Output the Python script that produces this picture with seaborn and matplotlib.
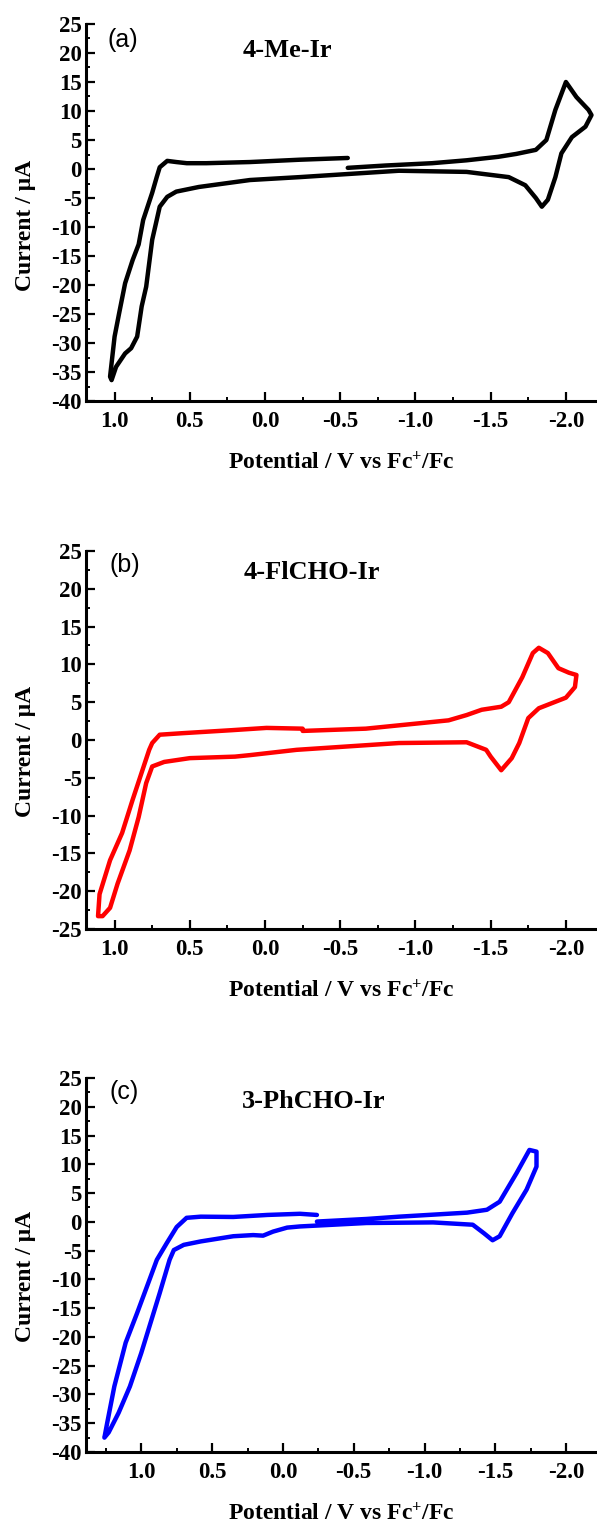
import numpy as np
import pandas as pd
import seaborn as sns
import matplotlib
matplotlib.use("Agg")
import matplotlib.pyplot as plt
from matplotlib.ticker import MultipleLocator

# ---------------- data ----------------
# Panel (a) 4-Me-Ir : potential (V vs Fc+/Fc) and current (uA), in sweep order
a_pot = [-0.55, -0.80, -1.11, -1.34, -1.55, -1.67, -1.80, -1.87, -1.93, -2.00,
         -2.07, -2.15, -2.17, -2.13, -2.04, -1.97, -1.93, -1.88, -1.84, -1.80,
         -1.73, -1.62, -1.34, -0.89, -0.23, 0.10, 0.44, 0.59, 0.65, 0.70,
         0.72, 0.75, 0.79, 0.82, 0.85, 0.89, 0.93, 0.99, 1.02, 1.03,
         1.00, 0.97, 0.93, 0.88, 0.84, 0.81, 0.75, 0.72, 0.70, 0.65,
         0.59, 0.52, 0.39, 0.10, -0.23, -0.55]
a_cur = [0.2, 0.6, 1.0, 1.5, 2.1, 2.6, 3.3, 5.0, 10.2, 15.0,
         12.4, 10.2, 9.3, 7.3, 5.5, 2.7, -1.4, -5.3, -6.5, -5.0,
         -2.8, -1.4, -0.5, -0.3, -1.4, -1.9, -3.1, -3.9, -4.8, -6.5,
         -8.8, -12.2, -20.3, -23.7, -28.9, -30.9, -31.8, -34.1, -36.4, -35.8,
         -28.9, -24.9, -19.7, -15.7, -13.0, -8.8, -4.1, -1.4, 0.3, 1.4,
         1.2, 1.0, 1.0, 1.2, 1.6, 1.9]

# Panel (b) 4-FlCHO-Ir
b_pot = [-0.25, -0.67, -1.22, -1.34, -1.44, -1.57, -1.62, -1.71, -1.78, -1.82,
         -1.88, -1.95, -2.02, -2.07, -2.06, -2.00, -1.82, -1.75, -1.69, -1.64,
         -1.57, -1.50, -1.47, -1.34, -0.89, -0.21, 0.10, 0.20, 0.50, 0.67,
         0.75, 0.79, 0.84, 0.90, 0.98, 1.03, 1.08, 1.11, 1.10, 1.03,
         0.95, 0.88, 0.80, 0.77, 0.75, 0.70, 0.55, 0.22, -0.01, -0.25]
b_cur = [1.2, 1.5, 2.6, 3.3, 4.0, 4.4, 5.0, 8.3, 11.5, 12.2,
         11.5, 9.5, 8.9, 8.6, 7.0, 5.6, 4.2, 2.9, -0.4, -2.4,
         -4.0, -2.2, -1.3, -0.3, -0.4, -1.3, -2.0, -2.2, -2.4, -2.9,
         -3.5, -5.7, -10.2, -14.6, -19.0, -22.2, -23.3, -23.3, -20.4, -15.9,
         -12.3, -7.9, -3.1, -1.3, -0.4, 0.7, 0.9, 1.3, 1.6, 1.5]

# Panel (c) 3-PhCHO-Ir
c_pot = [-0.24, -0.59, -0.82, -1.30, -1.44, -1.53, -1.65, -1.74, -1.79, -1.79,
         -1.72, -1.62, -1.53, -1.48, -1.42, -1.34, -1.06, -0.59, -0.12, -0.03,
         0.07, 0.14, 0.21, 0.35, 0.58, 0.70, 0.77, 0.80, 0.87, 0.92,
         1.00, 1.08, 1.16, 1.23, 1.26, 1.24, 1.19, 1.11, 1.03, 0.95,
         0.89, 0.82, 0.75, 0.68, 0.58, 0.35, 0.11, -0.12, -0.24]
c_cur = [0.05, 0.5, 0.9, 1.6, 2.1, 3.5, 8.5, 12.5, 12.2, 9.6,
         5.6, 1.5, -2.5, -3.2, -2.0, -0.5, -0.1, -0.2, -0.8, -1.0,
         -1.7, -2.4, -2.3, -2.5, -3.4, -4.0, -4.9, -6.6, -12.4, -16.4,
         -22.8, -28.6, -33.2, -36.6, -37.5, -34.9, -28.6, -21.0, -15.9, -10.6,
         -6.6, -3.7, -0.9, 0.7, 0.9, 0.85, 1.2, 1.4, 1.2]

names = ["4-Me-Ir", "4-FlCHO-Ir", "3-PhCHO-Ir"]
letters = ["(a)", "(b)", "(c)"]
colors = ["#000000", "#ff0000", "#0000ff"]
ylims = [(-40, 25), (-25, 25), (-40, 25)]
xlims = [(1.19, -2.2), (1.19, -2.2), (1.39, -2.21)]
ylabel = "Current / \u03bcA"
xlabel = "Potential / V vs Fc$^{+}$/Fc"

# ---------------- style ----------------
sns.set_style("ticks")
plt.rcParams["font.family"] = ["Liberation Serif", "DejaVu Serif"]
plt.rcParams["font.weight"] = "bold"
plt.rcParams["mathtext.default"] = "regular"
plt.rcParams["axes.unicode_minus"] = False
plt.rcParams["axes.linewidth"] = 2.2
plt.rcParams["axes.edgecolor"] = "black"
plt.rcParams["axes.labelcolor"] = "black"
plt.rcParams["text.color"] = "black"
plt.rcParams["xtick.color"] = "black"
plt.rcParams["ytick.color"] = "black"
plt.rcParams["xtick.direction"] = "in"
plt.rcParams["ytick.direction"] = "in"

W, H = 597, 1524
fig = plt.figure(figsize=(W / 100, H / 100), dpi=100)

# axes boxes in pixels: (left, top, right, bottom)
boxes = [(86, 24, 596, 401), (86, 551, 596, 929), (86, 1078, 596, 1452)]
title_pos = [(0.395, 0.931), (0.443, 0.942), (0.446, 0.936)]
letter_pos = [(0.043, 0.958), (0.047, 0.962), (0.047, 0.962)]
ylab_y = [0.467, 0.47, 0.47]

series = [(a_pot, a_cur), (b_pot, b_cur), (c_pot, c_cur)]

for i in range(3):
    l, t, r, b = boxes[i]
    ax = fig.add_axes([l / W, 1 - b / H, (r - l) / W, (b - t) / H])
    pot, cur = series[i]
    df = pd.DataFrame({"pot": pot, "cur": cur})
    sns.lineplot(data=df, x="pot", y="cur", sort=False, estimator=None,
                 color=colors[i], lw=3.2, ax=ax,
                 solid_joinstyle="round", solid_capstyle="round")
    ax.set_xlim(*xlims[i])
    ax.set_ylim(*ylims[i])
    ax.xaxis.set_major_locator(MultipleLocator(0.5))
    ax.xaxis.set_minor_locator(MultipleLocator(0.25))
    ax.yaxis.set_major_locator(MultipleLocator(5))
    ax.yaxis.set_minor_locator(MultipleLocator(2.5))
    ax.tick_params(which="major", length=6.5, width=1.6, labelsize=16.5,
                   pad=7)
    ax.tick_params(which="minor", length=3.2, width=1.4)
    ax.tick_params(axis="y", which="major", pad=3)
    for lab in ax.get_xticklabels() + ax.get_yticklabels():
        lab.set_fontweight("bold")
    sns.despine(ax=ax)
    ax.set_xlabel(xlabel, fontsize=17, fontweight="bold", labelpad=14)
    ax.set_ylabel(ylabel, fontsize=17, fontweight="bold")
    ax.yaxis.set_label_coords(-0.098, ylab_y[i])
    ax.text(letter_pos[i][0], letter_pos[i][1], letters[i],
            transform=ax.transAxes, ha="left", va="center",
            fontsize=18, fontweight="normal",
            family=["Liberation Sans", "DejaVu Sans"])
    ax.text(title_pos[i][0], title_pos[i][1], names[i],
            transform=ax.transAxes, ha="center", va="center",
            fontsize=19, fontweight="bold")

fig.savefig("out.png", dpi=100)
